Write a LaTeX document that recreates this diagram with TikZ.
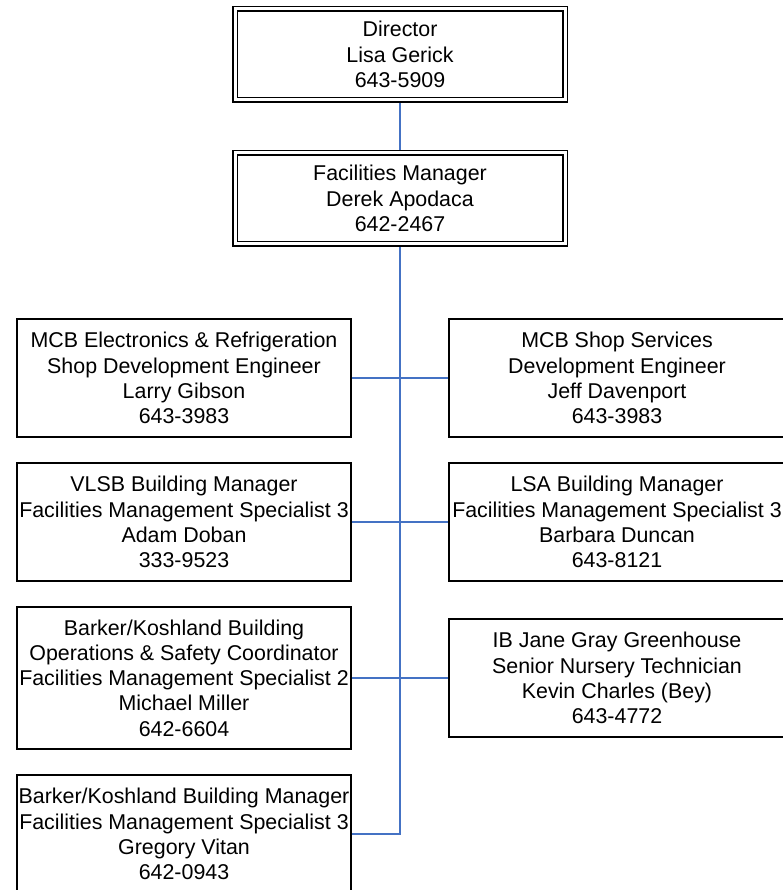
\documentclass[tikz,border=0pt]{standalone}
\usepackage{fontspec}
\setmainfont{Liberation Sans}
\usepackage{tikz}
\usetikzlibrary{arrows}
\definecolor{linkblue}{HTML}{4472C4}

\begin{document}
\begin{tikzpicture}
	[x=1pt,y=1pt,node distance=144pt,
		link/.style={draw=linkblue,line width=1.8pt},
		head node/.style={draw,double,double distance=3pt,line width=1.6pt,outer sep=3.1pt,align=center,inner sep=0pt,
			minimum width=330pt,minimum height=91pt,font=\fontsize{21.4}{25.3}\selectfont},
		staff node/.style={draw,line width=1.8pt,align=center,inner sep=0pt,
			minimum width=334pt,minimum height=118pt,font=\fontsize{21.4}{25.3}\selectfont},
		side node/.style={staff node,minimum width=336pt}]

	\useasboundingbox (0,0) rectangle (783,-890);

	\node[head node] (dir) at (400,-54.5) {Director\\Lisa Gerick\\643-5909};
	\node[head node] (fm) [below of = dir] {Facilities Manager\\Derek Apodaca\\642-2467};

	\node[staff node] (elec) at (184,-378) {MCB Electronics \& Refrigeration\\Shop Development Engineer\\Larry Gibson\\643-3983};
	\node[side node] (shop) [node distance=433pt, right of = elec] {MCB Shop Services\\Development Engineer\\Jeff Davenport\\643-3983};
	\node[staff node] (vlsb) [below of = elec] {VLSB Building Manager\\Facilities Management Specialist 3\\Adam Doban\\333-9523};
	\node[side node] (lsa) [node distance=433pt, right of = vlsb] {LSA Building Manager\\Facilities Management Specialist 3\\Barbara Duncan\\643-8121};
	\node[staff node, minimum height=142pt] (bkops) [node distance=156pt, below of = vlsb] {Barker/Koshland Building\\Operations \& Safety Coordinator\\Facilities Management Specialist 2\\Michael Miller\\642-6604};
	\node[side node] (ib) [node distance=433pt, right of = bkops] {IB Jane Gray Greenhouse\\Senior Nursery Technician\\Kevin Charles (Bey)\\643-4772};
	\node[staff node] (bkmgr) [node distance=156pt, below of = bkops] {Barker/Koshland Building Manager\\Facilities Management Specialist 3\\Gregory Vitan\\642-0943};

	\path[link]
	(dir) edge (fm)
	(elec) edge (shop)
	(vlsb) edge (lsa)
	(bkops) edge (ib);
	\draw[link] (fm) |- (bkmgr);

\end{tikzpicture}
\end{document}
